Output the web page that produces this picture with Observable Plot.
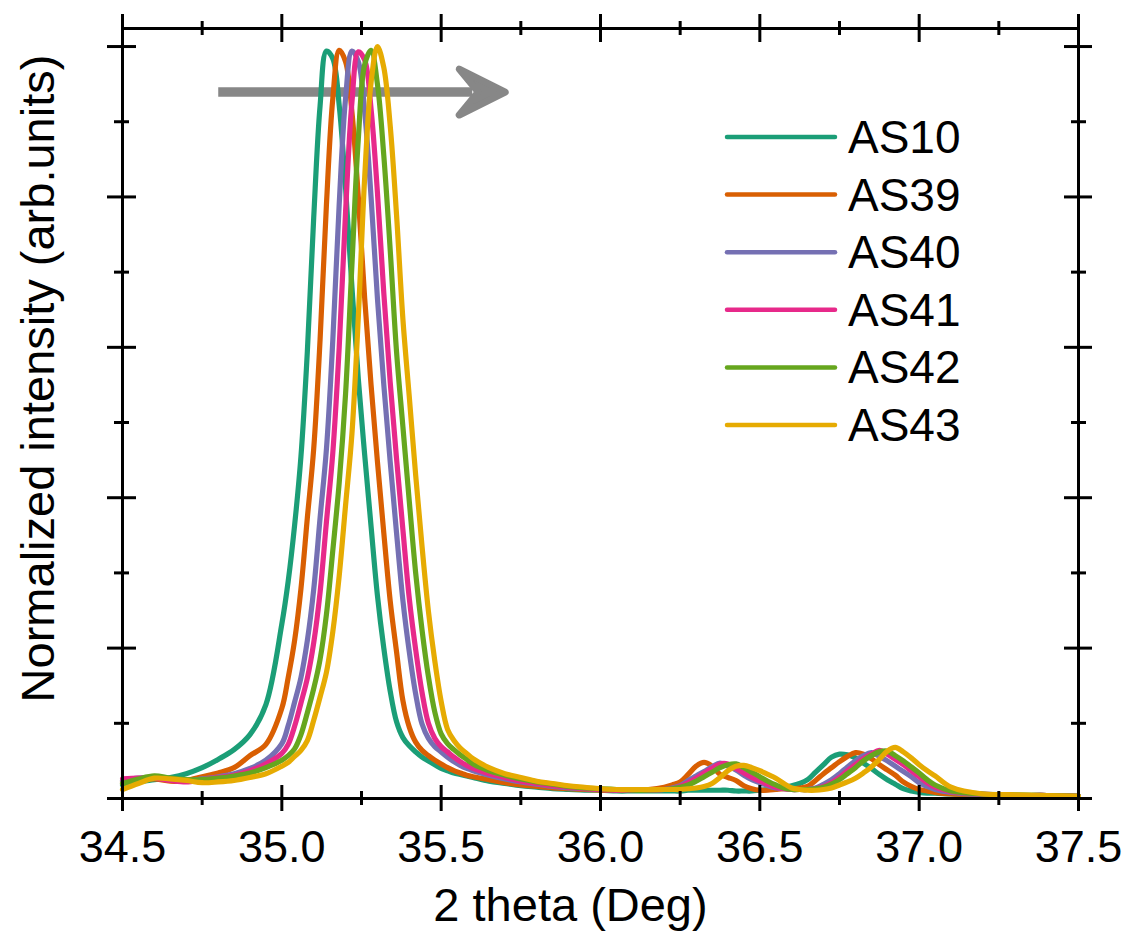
<!DOCTYPE html>
<html><head><meta charset="utf-8">
<script src="https://cdn.jsdelivr.net/npm/d3@7"></script>
<script src="https://cdn.jsdelivr.net/npm/@observablehq/plot@0.6"></script>
<style>html,body{margin:0;padding:0;background:#fff;}</style>
</head><body><div id="chart"></div>
<script>
// 2 theta grid (deg)
const twoTheta = [
 34.50,34.55,34.60,34.65,34.70,34.75,34.80,34.85,34.90,34.95,35.00,
 35.02,35.04,35.06,35.08,35.10,35.12,35.14,35.16,35.18,35.20,
 35.22,35.24,35.26,35.28,35.30,35.32,35.34,35.36,35.38,35.40,
 35.42,35.44,35.46,35.48,35.50,35.52,35.54,35.56,35.58,35.60,
 35.65,35.70,35.75,35.80,35.85,35.90,35.95,36.00,36.05,36.10,36.15,
 36.200,36.225,36.250,36.275,36.300,36.325,36.350,36.375,36.400,36.425,
 36.450,36.475,36.500,36.525,36.550,36.575,36.600,36.625,36.650,36.675,
 36.700,36.725,36.750,36.775,36.800,36.825,36.850,36.875,36.900,36.925,
 36.950,36.975,37.000,37.025,37.050,
 37.1,37.2,37.3,37.4,37.5
];
const as10 = [
 0.018,0.022,0.025,0.028,0.033,0.041,0.052,0.065,0.085,0.125,0.232,
 0.289,0.363,0.455,0.594,0.772,0.921,0.994,0.984,0.922,0.812,
 0.68,0.558,0.457,0.362,0.27,0.20,0.143,0.102,0.081,0.070,
 0.062,0.055,0.050,0.045,0.040,0.037,0.034,0.032,0.030,0.028,
 0.023,0.020,0.017,0.015,0.013,0.012,0.011,0.011,0.010,0.010,0.010,
 0.010,0.010,0.010,0.011,0.011,0.011,0.011,0.011,0.011,0.010,
 0.010,0.010,0.011,0.012,0.013,0.015,0.017,0.020,0.025,0.035,
 0.045,0.055,0.059,0.058,0.054,0.047,0.040,0.032,0.025,0.019,
 0.013,0.010,0.008,0.007,0.007,
 0.006,0.005,0.004,0.004,0.003
];
const as39 = [
 0.022,0.026,0.026,0.023,0.024,0.029,0.034,0.041,0.057,0.072,0.12,
 0.161,0.21,0.279,0.373,0.465,0.61,0.79,0.931,0.995,0.98,
 0.913,0.80,0.665,0.55,0.448,0.353,0.263,0.195,0.13,0.095,
 0.075,0.064,0.057,0.051,0.046,0.041,0.037,0.034,0.031,0.029,
 0.025,0.021,0.018,0.016,0.014,0.013,0.012,0.011,0.011,0.011,0.012,
 0.015,0.018,0.022,0.032,0.043,0.048,0.043,0.032,0.028,0.024,
 0.017,0.013,0.011,0.011,0.012,0.013,0.013,0.014,0.016,0.024,
 0.033,0.041,0.049,0.056,0.061,0.059,0.053,0.045,0.038,0.031,
 0.022,0.016,0.012,0.010,0.008,
 0.006,0.005,0.004,0.004,0.003
];
const as40 = [
 0.024,0.027,0.028,0.025,0.023,0.026,0.029,0.033,0.040,0.051,0.073,
 0.097,0.128,0.161,0.21,0.278,0.373,0.465,0.61,0.79,0.931,
 0.994,0.98,0.913,0.80,0.665,0.55,0.448,0.353,0.263,0.195,
 0.139,0.099,0.080,0.069,0.062,0.055,0.049,0.044,0.040,0.037,
 0.031,0.026,0.022,0.019,0.016,0.014,0.013,0.012,0.011,0.011,0.011,
 0.012,0.014,0.017,0.024,0.030,0.036,0.042,0.047,0.043,0.038,
 0.031,0.025,0.021,0.017,0.014,0.013,0.012,0.012,0.012,0.014,
 0.019,0.025,0.033,0.042,0.050,0.057,0.061,0.056,0.050,0.043,
 0.036,0.029,0.021,0.016,0.012,
 0.008,0.005,0.004,0.004,0.003
];
const as41 = [
 0.026,0.027,0.027,0.024,0.022,0.025,0.028,0.031,0.037,0.046,0.060,
 0.072,0.096,0.127,0.16,0.207,0.274,0.368,0.46,0.60,0.78,
 0.926,0.993,0.982,0.917,0.806,0.672,0.554,0.452,0.357,0.266,
 0.198,0.141,0.10,0.080,0.069,0.062,0.055,0.049,0.044,0.040,
 0.033,0.028,0.023,0.020,0.017,0.015,0.013,0.012,0.011,0.011,0.011,
 0.012,0.013,0.016,0.021,0.027,0.034,0.040,0.046,0.046,0.040,
 0.034,0.028,0.023,0.019,0.015,0.013,0.012,0.012,0.012,0.013,
 0.016,0.021,0.028,0.037,0.045,0.053,0.059,0.064,0.059,0.052,
 0.045,0.037,0.029,0.021,0.015,
 0.009,0.006,0.004,0.004,0.003
];
const as42 = [
 0.020,0.026,0.030,0.027,0.025,0.025,0.027,0.030,0.034,0.041,0.051,
 0.057,0.066,0.085,0.114,0.146,0.185,0.245,0.33,0.42,0.538,
 0.71,0.877,0.976,0.995,0.95,0.855,0.73,0.594,0.494,0.395,
 0.30,0.224,0.162,0.115,0.086,0.073,0.065,0.058,0.052,0.046,
 0.037,0.031,0.026,0.022,0.019,0.016,0.014,0.013,0.012,0.011,0.011,
 0.012,0.013,0.015,0.018,0.023,0.029,0.035,0.041,0.045,0.046,
 0.041,0.035,0.029,0.023,0.018,0.014,0.012,0.012,0.012,0.013,
 0.015,0.019,0.025,0.033,0.041,0.050,0.057,0.062,0.063,0.057,
 0.050,0.042,0.034,0.025,0.018,
 0.010,0.006,0.005,0.004,0.003
];
const as43 = [
 0.012,0.020,0.027,0.026,0.024,0.021,0.022,0.024,0.028,0.033,0.043,
 0.048,0.056,0.064,0.077,0.104,0.135,0.168,0.222,0.296,0.39,
 0.485,0.64,0.826,0.952,1.0,0.972,0.895,0.776,0.637,0.534,
 0.43,0.335,0.249,0.183,0.129,0.092,0.077,0.067,0.060,0.053,
 0.041,0.033,0.028,0.023,0.020,0.017,0.015,0.013,0.012,0.012,0.012,
 0.012,0.012,0.012,0.013,0.014,0.016,0.020,0.028,0.037,0.043,
 0.044,0.041,0.037,0.032,0.027,0.020,0.014,0.012,0.011,0.011,
 0.012,0.014,0.018,0.022,0.027,0.034,0.042,0.052,0.063,0.068,
 0.062,0.054,0.045,0.037,0.030,
 0.015,0.006,0.005,0.004,0.003
];
const seriesNames = ["AS10","AS39","AS40","AS41","AS42","AS43"];
const seriesColors = ["#1b9e77","#d95f02","#7570b3","#e7298a","#66a61e","#e6ab02"];
const majorTicksX = [34.5,35.0,35.5,36.0,36.5,37.0,37.5];
const minorTicksX = [34.75,35.25,35.75,36.25,36.75,37.25];
const majorTicksY = [0,0.2,0.4,0.6,0.8,1.0];
const minorTicksY = [0.1,0.3,0.5,0.7,0.9];
const arrowX = [34.802, 35.712];
const arrowY = 0.9388;
const xTitle = "2 theta (Deg)";
const yTitle = "Normalized intensity (arb.units)";

const seriesValues = [as10, as39, as40, as41, as42, as43];
const rows = seriesNames.flatMap((name, k) =>
  twoTheta.map((t, i) => ({theta: t, intensity: seriesValues[k][i], sample: name})));

const W = 1130, H = 936, mL = 122, mR = 52, mT = 28, mB = 138;
const pw = W - mL - mR, ph = H - mT - mB;
const FONT = "'Liberation Sans', Arial, Helvetica, sans-serif";

function arrowMark(index, scales) {
  const g = d3.create("svg:g");
  const x1 = scales.x(arrowX[0]), x2 = scales.x(arrowX[1]), y = scales.y(arrowY);
  g.append("line").attr("x1", x1).attr("x2", x2 - 36).attr("y1", y).attr("y2", y)
    .attr("stroke", "#878787").attr("stroke-width", 9.5);
  g.append("path")
    .attr("d", `M${x2 - 3},${y} L${x2 - 49},${y - 23} L${x2 - 30},${y} L${x2 - 49},${y + 23} Z`)
    .attr("fill", "#878787").attr("stroke", "#878787").attr("stroke-width", 7)
    .attr("stroke-linejoin", "round");
  return g.node();
}
function legendMark() {
  const g = d3.create("svg:g");
  seriesNames.forEach((name, i) => {
    const y = 137 + i * 57.6;
    g.append("line").attr("x1", 727).attr("x2", 835).attr("y1", y).attr("y2", y)
      .attr("stroke", seriesColors[i]).attr("stroke-width", 4.5).attr("stroke-linecap", "round");
    g.append("text").attr("x", 848).attr("y", y + 16).attr("font-size", 46)
      .attr("text-anchor", "start")
      .attr("font-family", FONT).attr("fill", "black").text(name);
  });
  return g.node();
}

const chart = Plot.plot({
  width: W, height: H,
  marginLeft: mL, marginRight: mR, marginTop: mT, marginBottom: mB,
  style: {fontFamily: FONT, background: "white", color: "black"},
  x: {domain: [34.5, 37.5], axis: null},
  y: {domain: [0, 1.024], axis: null},
  color: {domain: seriesNames, range: seriesColors},
  marks: [
    arrowMark,
    Plot.line(rows, {x: "theta", y: "intensity", z: "sample", stroke: "sample",
      strokeWidth: 5.2, curve: "catmull-rom", strokeLinejoin: "round", strokeLinecap: "round"}),
    Plot.frame({stroke: "black", strokeWidth: 3}),
    // x ticks (crossing) bottom & top
    Plot.ruleX(majorTicksX, {stroke: "black", strokeWidth: 3, insetTop: ph - 13, insetBottom: -13}),
    Plot.ruleX(majorTicksX, {stroke: "black", strokeWidth: 3, insetTop: -14, insetBottom: ph - 14}),
    Plot.ruleX(minorTicksX, {stroke: "black", strokeWidth: 3, insetTop: ph - 7, insetBottom: -7}),
    Plot.ruleX(minorTicksX, {stroke: "black", strokeWidth: 3, insetTop: -7, insetBottom: ph - 7}),
    // y ticks (crossing) left & right
    Plot.ruleY(majorTicksY, {stroke: "black", strokeWidth: 3, insetLeft: -15, insetRight: pw - 14}),
    Plot.ruleY(majorTicksY, {stroke: "black", strokeWidth: 3, insetLeft: pw - 14, insetRight: -14}),
    Plot.ruleY(minorTicksY, {stroke: "black", strokeWidth: 3, insetLeft: -8, insetRight: pw - 7}),
    Plot.ruleY(minorTicksY, {stroke: "black", strokeWidth: 3, insetLeft: pw - 7, insetRight: -8}),
    // tick labels
    Plot.text(majorTicksX, {x: d => d, frameAnchor: "bottom", dy: 49, lineAnchor: "middle",
      text: d => d.toFixed(1), fontSize: 45, fill: "black"}),
    // axis titles
    Plot.text([xTitle], {frameAnchor: "bottom", dx: -30, dy: 107, lineAnchor: "middle",
      text: d => d, fontSize: 47, fill: "black"}),
    Plot.text([yTitle], {frameAnchor: "left", rotate: -90, dx: -84, dy: -35, lineAnchor: "middle",
      textAnchor: "middle", text: d => d, fontSize: 47, fill: "black"}),
    legendMark
  ]
});
document.getElementById("chart").appendChild(chart);
</script>
</body></html>
